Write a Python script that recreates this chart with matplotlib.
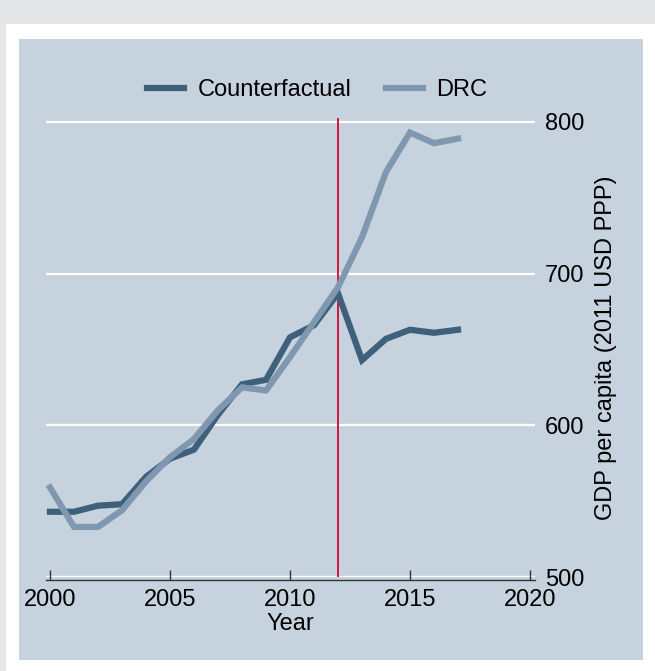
import matplotlib
matplotlib.use("Agg")
import matplotlib.pyplot as plt
from matplotlib.patches import Rectangle

plt.rcParams["font.family"] = ["Liberation Sans", "DejaVu Sans"]

years = list(range(2000, 2018))
counterfactual = [543, 543, 547, 548, 566, 578, 584, 607, 627, 630,
                  658, 666, 687, 643, 657, 663, 661, 663]
drc = [559, 533, 533, 544, 563, 579, 591, 610, 625, 623,
       645, 668, 691, 724, 767, 793, 786, 789]
treat_year = 2012
xticks = [2000, 2005, 2010, 2015, 2020]
yticks = [500, 600, 700, 800]

W, H = 655, 671
FS = 17
fig = plt.figure(figsize=(W / 100, H / 100), dpi=100)
fig.patch.set_facecolor("#e5e6e8")

# white card and the blue-grey graph region behind the axes
fig.add_artist(Rectangle((6 / W, 0), 1, 1 - 24 / H, transform=fig.transFigure,
                         facecolor="white", edgecolor="none", zorder=-3))
fig.add_artist(Rectangle((19 / W, 11 / H), (643 - 19) / W, (660 - 39) / H,
                         transform=fig.transFigure, facecolor="#c6d3df",
                         edgecolor="none", zorder=-2))

ax = fig.add_axes([46 / W, (H - 577) / H, 489 / W, (577 - 118) / H])
ax.set_facecolor("none")

for v in yticks:
    ax.axhline(v, color="white", lw=1.6, zorder=1)
ax.axvline(treat_year, color="#d4153f", lw=1.4, zorder=2)

ax.plot(years, counterfactual, color="#3e607a", lw=4.5, label="Counterfactual",
        solid_joinstyle="miter", zorder=3)
ax.plot(years, drc, color="#8098af", lw=4.5, label="DRC",
        solid_joinstyle="miter", zorder=4)

ax.set_xlim(2000 - 4 / 24, 2020 + 5 / 24)
ax.set_ylim(500, 802.6)

for s in ["top", "left", "right"]:
    ax.spines[s].set_visible(False)
ax.spines["bottom"].set_position(("outward", 2))
ax.spines["bottom"].set_color("#333333")
ax.spines["bottom"].set_linewidth(1.0)

ax.set_xticks(xticks)
ax.tick_params(axis="x", direction="in", length=7, width=1, color="#333333",
               labelsize=FS, pad=7)
ax.set_yticks(yticks)
ax.yaxis.tick_right()
ax.yaxis.set_label_position("right")
ax.tick_params(axis="y", length=0, labelsize=FS, pad=7)

ax.set_xlabel("Year", fontsize=FS, labelpad=1, linespacing=0.9)
ax.set_ylabel("GDP per capita (2011 USD PPP)", fontsize=FS, labelpad=8)

fig.legend(loc="center", bbox_to_anchor=(317 / W, 1 - 90 / H), ncol=2,
           frameon=False, fontsize=FS, handlelength=1.6, handletextpad=0.55,
           columnspacing=1.45)

fig.savefig("out.png", dpi=100, facecolor=fig.get_facecolor())
